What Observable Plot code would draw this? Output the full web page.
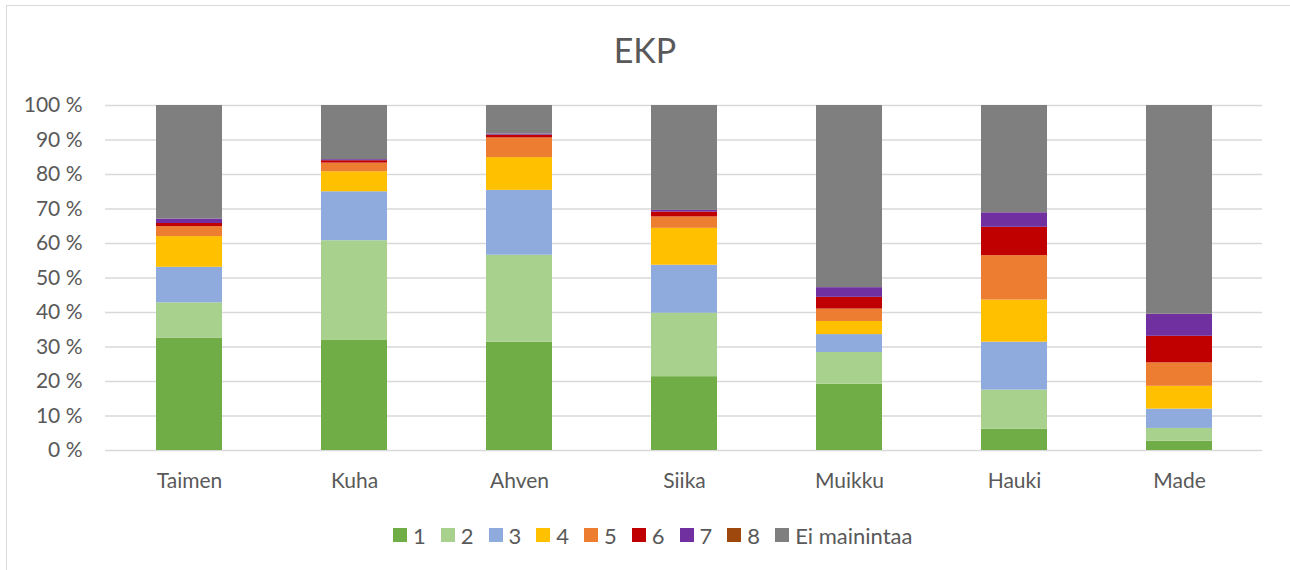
<!DOCTYPE html>
<html><head><meta charset="utf-8">
<script src="https://cdn.jsdelivr.net/npm/d3@7"></script>
<script src="https://cdn.jsdelivr.net/npm/@observablehq/plot@0.6"></script>
<style>
body{margin:0;background:#fff;font-family:Lato,sans-serif;}
#wrap{position:relative;width:1290px;height:570px;overflow:hidden;background:#fff;}
#frame{position:absolute;left:6px;top:5px;width:1300px;height:620px;border:1px solid #d9d9d9;box-sizing:border-box;}
#title{position:absolute;left:0;width:1290px;top:30px;line-height:40px;text-align:center;font-size:34px;color:#595959;}
#chart{position:absolute;left:0;top:90px;}
#legend{position:absolute;top:524px;left:393px;height:22px;display:flex;align-items:center;font-size:22px;color:#595959;}
.item{display:flex;align-items:center;margin-right:15px;}
.sw{width:14px;height:14px;margin-right:6px;}
</style>
</head><body>
<div id="wrap">
<div id="frame"></div>
<div id="title">EKP</div>
<div id="chart"></div>
<div id="legend"></div>
</div>
<script>
const categories = ["Taimen","Kuha","Ahven","Siika","Muikku","Hauki","Made"];
const seriesNames = ["1","2","3","4","5","6","7","8","Ei mainintaa"];
const seriesColors = ["#70AD47","#A9D18E","#8FAADC","#FFC000","#ED7D31","#C00000","#7030A0","#9E480E","#7F7F7F"];
const s1 = [32.6, 31.9, 31.4, 21.4, 19.2, 6.2, 2.7];
const s2 = [10.2, 28.9, 25.2, 18.4, 9.2, 11.3, 3.7];
const s3 = [10.3, 14.2, 18.8, 13.9, 5.2, 13.9, 5.6];
const s4 = [8.9, 5.8, 9.5, 10.7, 3.8, 12.2, 6.6];
const s5 = [2.9, 2.5, 5.7, 3.3, 3.6, 12.9, 6.8];
const s6 = [0.9, 0.7, 0.8, 1.4, 3.4, 8.2, 7.7];
const s7 = [1.3, 0.3, 0.3, 0.5, 2.8, 4.2, 6.4];
const s8 = [0, 0, 0, 0, 0, 0, 0];
const sEi = [32.9, 15.7, 8.3, 30.4, 52.8, 31.1, 60.5];
const yTicks = [0,0.1,0.2,0.3,0.4,0.5,0.6,0.7,0.8,0.9,1];

const allSeries = [s1,s2,s3,s4,s5,s6,s7,s8,sEi];
const data = [];
categories.forEach((c,i) => {
  allSeries.forEach((s,j) => {
    data.push({cat:c, series:seriesNames[j], value:s[i]/100});
  });
});

const chart = Plot.plot({
  width: 1290,
  height: 410,
  marginLeft: 105,
  marginRight: 28,
  marginTop: 15,
  marginBottom: 50,
  style: {fontFamily: "Lato, sans-serif", fontSize: "21px", color: "#595959", background: "transparent"},
  x: {domain: categories, label: null, paddingInner: 0.6, paddingOuter: 0.3, tickSize: 0, tickPadding: 23},
  y: {domain: [0,1], label: null, ticks: yTicks, tickSize: 0, tickPadding: 23, tickFormat: d => Math.round(d*100) + " %"},
  color: {domain: seriesNames, range: seriesColors},
  marks: [
    Plot.gridY(yTicks, {stroke: "#d9d9d9", strokeOpacity: 1, strokeWidth: 1.3}),
    Plot.barY(data, {x: "cat", y: "value", fill: "series", order: seriesNames}),
  ]
});
document.getElementById("chart").appendChild(chart);

const leg = document.getElementById("legend");
seriesNames.forEach((n,i) => {
  const it = document.createElement("div");
  it.className = "item";
  const sw = document.createElement("div");
  sw.className = "sw";
  sw.style.background = seriesColors[i];
  const t = document.createElement("span");
  t.textContent = n;
  it.appendChild(sw); it.appendChild(t);
  leg.appendChild(it);
});
</script>
</body></html>
